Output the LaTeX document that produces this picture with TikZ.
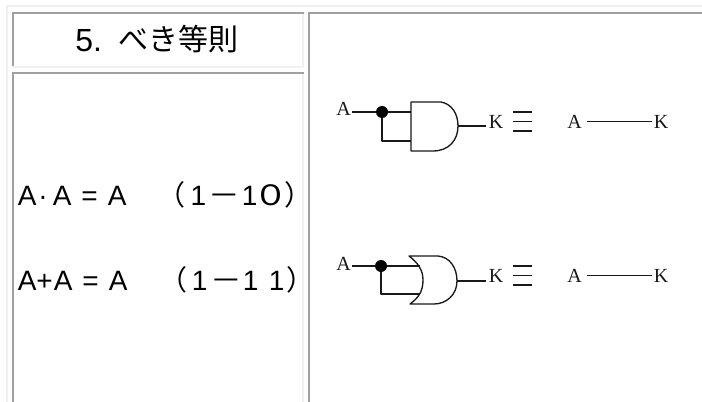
\documentclass[tikz,border=0pt]{standalone}
\usepackage{fontspec}
\setmainfont{Liberation Sans}
\newfontfamily\cjk{Noto Sans CJK JP}
\newfontfamily\serifA{Liberation Serif}
\definecolor{cellgray}{HTML}{A0A0A0}
\definecolor{edgelight}{HTML}{F0F0F0}
\newcommand{\glat}[2]{\rlap{\hspace{#1\dimexpr0.75pt\relax}#2}}
\newcommand{\wzero}{{\cjk\scalebox{1.25}[1]{０}}}
\newcommand{\wdash}{{\cjk\scalebox{1.13}[1]{－}}}
\newcommand{\jlp}{{\cjk （}}
\newcommand{\jrp}{{\cjk ）}}
\tikzset{
  dk/.style={fill=cellgray,draw=none},
  lt/.style={fill=edgelight,draw=none},
  wire/.style={draw=black!90,line width=1pt,line join=round},
  gatelbl/.style={font=\serifA\fontsize{15}{16}\selectfont,inner sep=0pt,text=black!90},
  eqn/.style={font=\fontsize{21}{23}\selectfont,inner sep=0pt,anchor=base west}
}
\begin{document}
\begin{tikzpicture}[x=0.75pt,y=-0.75pt]
\useasboundingbox (0,0) rectangle (702,402);
\fill[white] (0,0) rectangle (702,402);
% outer table edge
\fill[lt] (6,5) rectangle (702,7);
\fill[lt] (6,5) rectangle (8,402);
% header cell
\fill[dk] (12,12) rectangle (304,14);
\fill[dk] (12,12) rectangle (14,66);
\fill[lt] (302,14) rectangle (304,68);
\fill[lt] (12,66) rectangle (304,68);
% body cell
\fill[dk] (12,72) rectangle (304,74);
\fill[dk] (12,72) rectangle (14,402);
\fill[lt] (302,74) rectangle (304,402);
% right cell
\fill[dk] (308,12) rectangle (702,14);
\fill[dk] (308,12) rectangle (310,402);
% header
\node[inner sep=0pt,anchor=base west,font=\fontsize{24}{26}\selectfont] (num) at (75,52) {5.};
\node[inner sep=0pt,anchor=base west,font=\cjk\fontsize{22.5}{26}\selectfont] (title) at (118.5,51) {べき等則};
% equations (glyph offsets in px from the left of the node)
\node[eqn] (e1) at (17,206) {\glat{0}{A}\glat{20.5}{·}\glat{35}{A}\glat{63.5}{=}\glat{90}{A}\glat{140}{\jlp}\glat{172.6}{1}\glat{190.7}{\wdash}\glat{224}{1}\glat{235.5}{\wzero}\glat{267}{\jrp}};
\node[eqn] (e2) at (17,291) {\glat{0}{A}\glat{18.5}{+}\glat{36}{A}\glat{64.5}{=}\glat{91}{A}\glat{142}{\jlp}\glat{174}{1}\glat{192.7}{\wdash}\glat{225}{1}\glat{251}{1}\glat{269}{\jrp}};
% AND circuit
\node[gatelbl] (a1) at (343.5,109) {A};
\node[gatelbl] (k1) at (496,121.5) {K};
\node[gatelbl] (a2) at (574.5,121.5) {A};
\node[gatelbl] (k2) at (661,121.5) {K};
\coordinate (w1) at (352,112);
\coordinate (j1) at (382,112);
\coordinate (g1a) at (411,112);
\coordinate (g1b) at (411,141);
\coordinate (g1o) at (458,126);
\coordinate (q1) at (486,126);
\draw[wire] (w1) -- (j1) -- (g1a);
\draw[wire] (j1) -- (382,141) -- (g1b);
\fill[black] (j1) circle (6);
\draw[wire] (411,102) -- (441,102) .. controls (452,104) and (458,114) .. (g1o) .. controls (458,140) and (449,151) .. (433,151) -- (411,151) -- cycle;
\draw[wire] (g1o) -- (q1);
\foreach \yy in {112,121.5,131} \draw[wire] (513,\yy) -- (532,\yy);
\draw[wire,shorten >=1.5pt] ([xshift=3.7pt]a2.east) -- (k2.west);
% OR circuit
\node[gatelbl] (a3) at (343.5,264) {A};
\node[gatelbl] (k3) at (496,275.5) {K};
\node[gatelbl] (a4) at (574.5,275.5) {A};
\node[gatelbl] (k4) at (661,275.5) {K};
\coordinate (w2) at (352,266);
\coordinate (j2) at (381,266);
\coordinate (g2a) at (420,266);
\coordinate (g2b) at (420,294);
\coordinate (g2o) at (457,281);
\coordinate (q2) at (486,281);
\draw[wire] (w2) -- (j2) -- (g2a);
\draw[wire] (j2) -- (381,294) -- (g2b);
\fill[black] (j2) circle (6);
\draw[wire] (409,256) -- (438,256) .. controls (450,257) and (457,268) .. (g2o) .. controls (457,295) and (446,304) .. (434,304) -- (410,304) .. controls (418,298) and (423,292) .. (423,280) .. controls (423,270) and (418,263) .. (409,256) -- cycle;
\draw[wire] (g2o) -- (q2);
\foreach \yy in {266,275.5,285} \draw[wire] (513,\yy) -- (532,\yy);
\draw[wire,shorten >=1.5pt] ([xshift=3.7pt]a4.east) -- (k4.west);
\end{tikzpicture}
\end{document}
